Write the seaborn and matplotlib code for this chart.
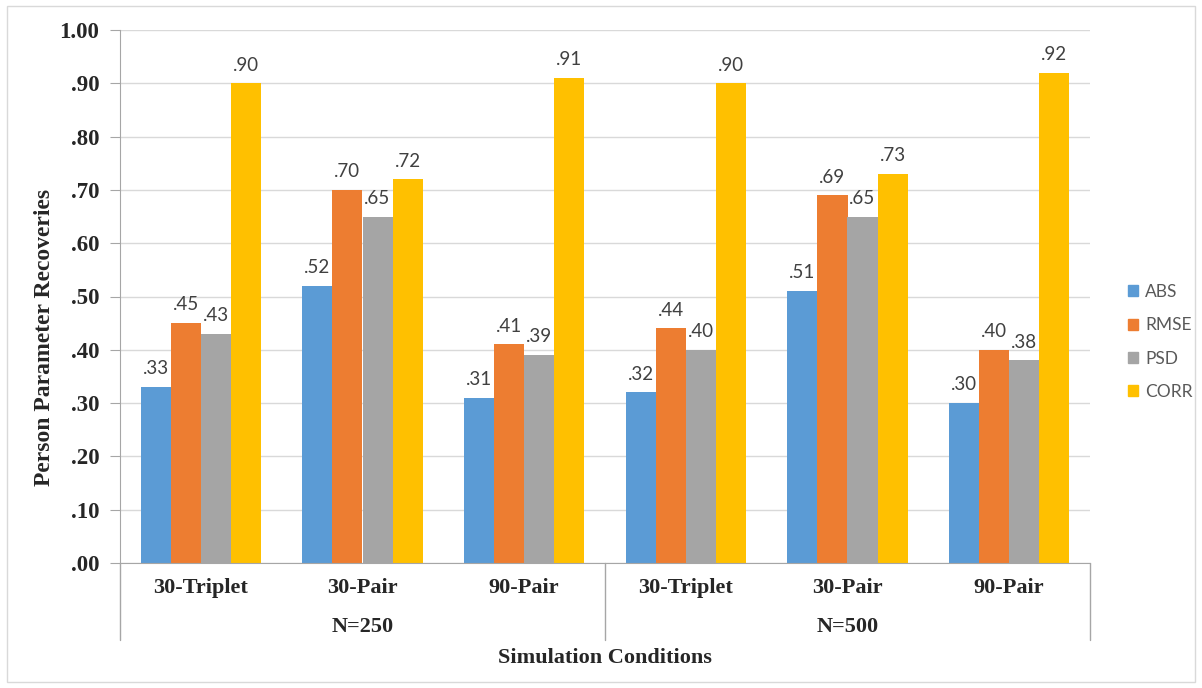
import numpy as np
import pandas as pd
import matplotlib
matplotlib.use("Agg")
import matplotlib.pyplot as plt
import seaborn as sns
from matplotlib.patches import Rectangle

# values
conditions = ["30-Triplet", "30-Pair", "90-Pair", "30-Triplet", "30-Pair", "90-Pair"]
sample_sizes = ["N=250", "N=250", "N=250", "N=500", "N=500", "N=500"]
measures = ["ABS", "RMSE", "PSD", "CORR"]
abs_vals = [0.33, 0.52, 0.31, 0.32, 0.51, 0.30]
rmse_vals = [0.45, 0.70, 0.41, 0.44, 0.69, 0.40]
psd_vals = [0.43, 0.65, 0.39, 0.40, 0.65, 0.38]
corr_vals = [0.90, 0.72, 0.91, 0.90, 0.73, 0.92]
y_ticks = [0.0, 0.1, 0.2, 0.3, 0.4, 0.5, 0.6, 0.7, 0.8, 0.9, 1.0]

colors = ["#5B9BD5", "#ED7D31", "#A5A5A5", "#FFC000"]
SERIF = "Liberation Serif"


def fmt(v):
    s = f"{v:.2f}"
    return s[1:] if s.startswith("0") else s


def build_frame():
    keys = [f"{n}|{c}" for n, c in zip(sample_sizes, conditions)]
    rows = []
    for m, vals in zip(measures, [abs_vals, rmse_vals, psd_vals, corr_vals]):
        for k, v in zip(keys, vals):
            rows.append({"cond": k, "measure": m, "value": v})
    return pd.DataFrame(rows), keys


def main():
    df, keys = build_frame()
    sns.set_style("white")

    fig = plt.figure(figsize=(12.02, 6.88), dpi=100)
    # plot area: x 120..1090 px, y 30..563 px
    ax = fig.add_axes([120 / 1202, 125 / 688, 970 / 1202, 533 / 688])

    sns.barplot(data=df, x="cond", y="value", hue="measure", order=keys,
                hue_order=measures, palette=colors, width=0.745, gap=0,
                saturation=1, linewidth=0, ax=ax, legend=False)

    for cont in ax.containers:
        ax.bar_label(cont, labels=[fmt(b.get_height()) for b in cont],
                     padding=7, fontsize=13.5, color="#404040", family="Lato")

    ax.set_ylim(0, 1.0)
    ax.set_xlim(-0.5, 5.5)
    ax.set_yticks(y_ticks)
    ax.set_yticklabels([fmt(v) for v in y_ticks], family=SERIF,
                       fontweight="bold", fontsize=16.5)
    ax.yaxis.grid(True, color="#D9D9D9", lw=1)
    ax.set_axisbelow(True)
    ax.tick_params(axis="y", length=7, color="#A6A6A6", left=True, pad=8)
    ax.tick_params(axis="x", length=0)
    ax.set_xticks([])
    for s in ["top", "right"]:
        ax.spines[s].set_visible(False)
    ax.spines["left"].set_color("#A6A6A6")
    ax.spines["bottom"].set_color("#A6A6A6")

    # multi-level category axis
    trans = ax.get_xaxis_transform()
    for i, c in enumerate(conditions):
        ax.text(i, -0.047, c, transform=trans, ha="center", va="center",
                family=SERIF, fontweight="bold", fontsize=16)
    for x0, lab in [(1, "N=250"), (4, "N=500")]:
        ax.text(x0, -0.12, lab, transform=trans, ha="center", va="center",
                family=SERIF, fontweight="bold", fontsize=16)
    for xs in [-0.5, 2.5, 5.5]:
        ax.plot([xs, xs], [0, -0.144], transform=trans, color="#A6A6A6",
                lw=1, clip_on=False)

    ax.set_xlabel("")
    ax.set_ylabel("")
    fig.text(45 / 1202, 1 - 337 / 688, "Person Parameter Recoveries",
             rotation=90, ha="center", va="center", family=SERIF,
             fontweight="bold", fontsize=17)
    fig.text(605 / 1202, 1 - 658 / 688, "Simulation Conditions", ha="center",
             va="center", family=SERIF, fontweight="bold", fontsize=16)

    handles = [Rectangle((0, 0), 1, 1, color=c) for c in colors]
    fig.legend(handles, measures, loc="center left",
               bbox_to_anchor=(1112 / 1202, 0.503), frameon=False,
               handlelength=0.6, handleheight=0.6, handletextpad=0.4,
               labelspacing=1.0, prop={"family": "Lato", "size": 12.5},
               labelcolor="#595959")

    fig.patches.append(Rectangle((7 / 1202, 6 / 688), 1188 / 1202, 676 / 688,
                                 transform=fig.transFigure, fill=False,
                                 edgecolor="#D9D9D9", lw=1))

    fig.savefig("out.png", dpi=100)


if __name__ == "__main__":
    main()
